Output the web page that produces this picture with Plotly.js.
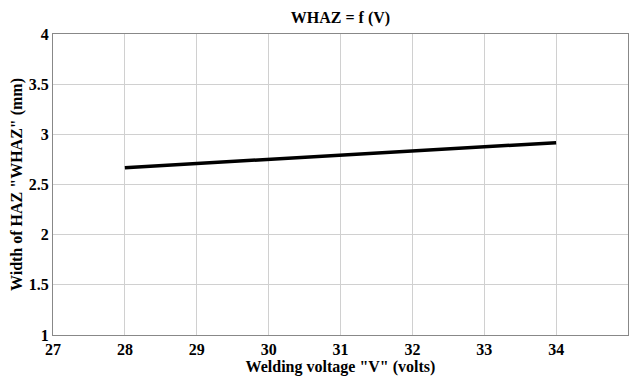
<!DOCTYPE html>
<html><head><meta charset="utf-8">
<script src="https://cdn.plot.ly/plotly-3.0.1.min.js"></script>
<style>body{margin:0;background:#fff}#c{width:635px;height:376px}</style>
</head><body><div id="c"></div>
<script>
const voltage = [28, 29, 30, 31, 32, 33, 34];
const whaz = [2.668, 2.709, 2.75, 2.792, 2.833, 2.875, 2.917];
const xTicks = [27, 28, 29, 30, 31, 32, 33, 34, 35];
const yTicks = [1, 1.5, 2, 2.5, 3, 3.5, 4];
const fam = 'Liberation Serif';
function f(size) { return {family: fam, size: size, color: '#000', weight: 700}; }
Plotly.newPlot('c', [{
  x: voltage, y: whaz, mode: 'lines', line: {color: '#000', width: 3.5}, hoverinfo: 'none'
}], {
  width: 635, height: 376,
  margin: {l: 53, r: 7, t: 34, b: 41},
  paper_bgcolor: '#fff', plot_bgcolor: '#fff',
  font: {family: fam, color: '#000'},
  showlegend: false,
  title: {text: 'WHAZ = f (V)', font: f(16), xref: 'paper', x: 0.5, xanchor: 'center', yref: 'container', y: 0.955, yanchor: 'middle'},
  xaxis: {range: [27, 35], tickvals: xTicks, ticktext: xTicks.map(String), showgrid: true, gridcolor: '#d0d0d0', gridwidth: 1,
    showline: true, linecolor: '#888', linewidth: 1, mirror: true, zeroline: false, ticks: '', ticklen: 0,
    tickfont: f(16), title: {text: 'Welding voltage "V" (volts)', font: f(16), standoff: 0}},
  yaxis: {range: [1, 4], tickvals: yTicks, ticktext: yTicks.map(String), showgrid: true, gridcolor: '#d0d0d0', gridwidth: 1,
    showline: true, linecolor: '#888', linewidth: 1, mirror: true, zeroline: false, ticks: '', ticklen: 0,
    tickfont: f(16), title: {text: 'Width of HAZ "WHAZ" (mm)', font: f(16), standoff: 2}}
}, {displayModeBar: false, staticPlot: true});
</script></body></html>
